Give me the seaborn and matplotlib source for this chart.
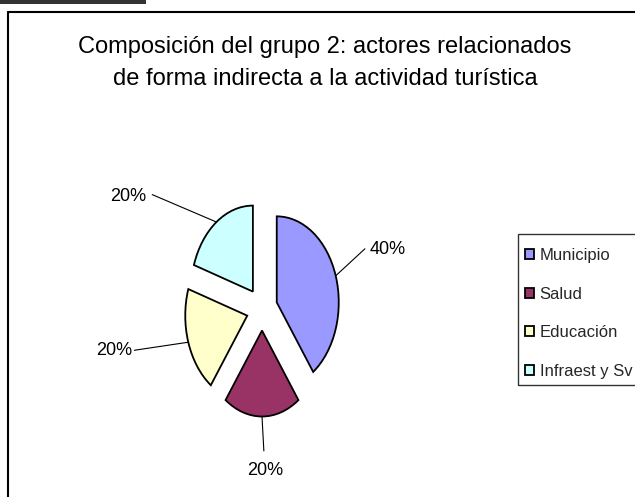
import matplotlib
matplotlib.use('Agg')
import matplotlib.pyplot as plt
import matplotlib.patches as mpatches
from matplotlib.lines import Line2D
import numpy as np
import seaborn as sns

categories = ['Municipio', 'Salud', 'Educación', 'Infraest y Sv']
values = [40, 20, 20, 20]
pct_labels = ['40%', '20%', '20%', '20%']
colors = ['#9999FF', '#993366', '#FFFFCC', '#CCFFFF']
title = 'Composición del grupo 2: actores relacionados\nde forma indirecta a la actividad turística'

# label layout (data coords): leader end, text position, alignment
leader_end = [(1.66, 0.70), (0.03, -1.65), (-2.06, -0.48), (-1.77, 1.33)]
text_pos = [(1.73, 0.69), (0.05, -1.88), (-2.09, -0.48), (-1.86, 1.31)]
text_ha = ['left', 'center', 'right', 'right']

sns.set_theme(style='white')
plt.rcParams['font.family'] = ['Liberation Sans', 'DejaVu Sans']

fig = plt.figure(figsize=(6.35, 4.97), dpi=100)
W, H = 635, 497

# pie axes: center at (262, 309) px, rx=62 px, ry=86 px per unit radius
cx, cy, rx, ry = 262, 309, 62, 86
xl, yl = 3.0, 2.0
ax = fig.add_axes([(cx - xl * rx) / W, (H - cy - yl * ry) / H, 2 * xl * rx / W, 2 * yl * ry / H])
wedges, _ = ax.pie(values, colors=colors, startangle=90, counterclock=False,
                   explode=[0.25] * len(values),
                   wedgeprops=dict(edgecolor='black', linewidth=1.3))
ax.set_aspect('auto')
ax.set_xlim(-xl, xl)
ax.set_ylim(-yl, yl)
ax.axis('off')

for w, end, pos, ha, lab in zip(wedges, leader_end, text_pos, text_ha, pct_labels):
    mid = np.deg2rad((w.theta1 + w.theta2) / 2)
    sx = w.center[0] + w.r * np.cos(mid)
    sy = w.center[1] + w.r * np.sin(mid)
    ax.plot([sx, end[0]], [sy, end[1]], color='black', lw=0.8, clip_on=False)
    ax.text(pos[0], pos[1], lab, ha=ha, va='center', fontsize=13, color='black')

fig.text(325 / W, 1 - 63 / H, title, ha='center', va='center', fontsize=17,
         linespacing=1.55, color='black')

leg = fig.legend(wedges, categories, loc='upper left', bbox_to_anchor=(525 / W, 1 - 248 / H),
                 frameon=False, borderpad=0, borderaxespad=0, fontsize=12,
                 handlelength=0.55, handleheight=0.55, handletextpad=0.32, labelspacing=1.42)

# legend frame (runs off the right edge)
fig.add_artist(mpatches.Rectangle((518 / W, 1 - 385 / H), 130 / W, 151 / H,
                                  transform=fig.transFigure, fill=False,
                                  edgecolor='#333333', lw=1, clip_on=False))
# chart area border (top and left edges) and the dark bar at top-left
fig.add_artist(Line2D([8 / W, 1.0], [1 - 12 / H, 1 - 12 / H], transform=fig.transFigure, color='black', lw=1.5))
fig.add_artist(Line2D([8 / W, 8 / W], [1 - 12 / H, 0.0], transform=fig.transFigure, color='black', lw=1.5))
fig.add_artist(mpatches.Rectangle((0, 1 - 4 / H), 146 / W, 4 / H, transform=fig.transFigure,
                                  color='#333333', lw=0))

fig.savefig('out.png', dpi=100)
